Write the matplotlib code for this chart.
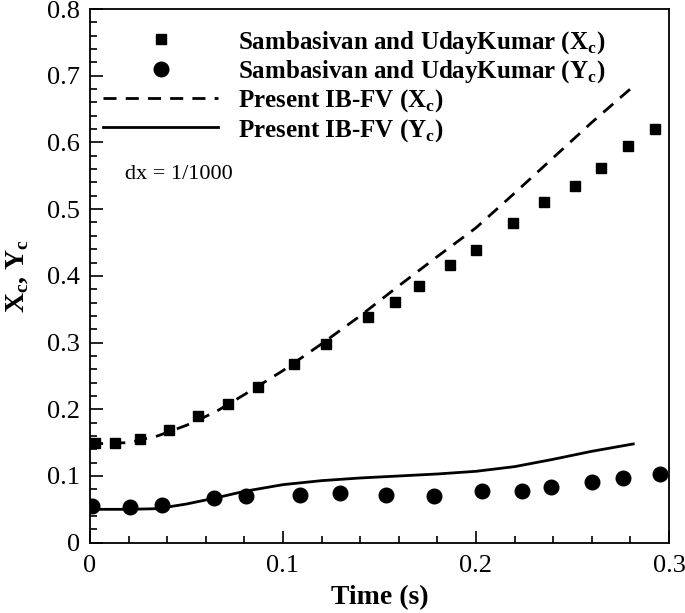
import numpy as np
import matplotlib.pyplot as plt
from matplotlib.ticker import MultipleLocator

plt.rcParams['font.family'] = ['Liberation Serif', 'DejaVu Serif']
plt.rcParams['mathtext.fontset'] = 'custom'
plt.rcParams['mathtext.rm'] = 'Liberation Serif'
plt.rcParams['mathtext.bf'] = 'Liberation Serif:bold'

# reference data (Sambasivan and UdayKumar)
ref_t_x = [0.0026, 0.013, 0.026, 0.041, 0.056, 0.0713, 0.0872, 0.1055, 0.1225, 0.1443,
           0.1578, 0.1704, 0.1865, 0.1998, 0.219, 0.2351, 0.2515, 0.2647, 0.2788, 0.293]
ref_xc = [0.149, 0.150, 0.155, 0.169, 0.190, 0.2075, 0.234, 0.2675, 0.298, 0.338,
          0.361, 0.385, 0.416, 0.439, 0.479, 0.511, 0.534, 0.561, 0.595, 0.620]

ref_t_y = [0.0012, 0.0208, 0.0372, 0.0645, 0.0808, 0.109, 0.1297, 0.1536, 0.1785,
           0.2032, 0.224, 0.2389, 0.26, 0.2764, 0.2953]
ref_yc = [0.0555, 0.054, 0.0565, 0.0665, 0.070, 0.0715, 0.075, 0.0715, 0.070,
          0.0775, 0.0775, 0.084, 0.0905, 0.0975, 0.1025]

# present IB-FV
t_ib = [0.0, 0.02, 0.035, 0.05, 0.065, 0.08, 0.1, 0.12, 0.14, 0.16, 0.18, 0.2,
        0.22, 0.24, 0.26, 0.2815]
xc_ib = [0.148, 0.150, 0.160, 0.176, 0.196, 0.222, 0.258, 0.298, 0.340, 0.385,
         0.429, 0.472, 0.524, 0.577, 0.630, 0.684]
yc_ib = [0.050, 0.050, 0.051, 0.058, 0.067, 0.077, 0.087, 0.093, 0.097, 0.100,
         0.103, 0.107, 0.114, 0.125, 0.137, 0.148]

fig = plt.figure(figsize=(6.85, 6.13), dpi=100)
ax = fig.add_axes([0.1314, 0.1147, 0.8452, 0.8706])

ax.plot(ref_t_x, ref_xc, 's', color='black', ms=7,
        label=r'Sambasivan and UdayKumar (X$_\mathbf{c}$)')
ax.plot(ref_t_y, ref_yc, 'o', color='black', ms=10.5,
        label=r'Sambasivan and UdayKumar (Y$_\mathbf{c}$)')
ax.plot(t_ib, xc_ib, color='black', lw=2.0, dashes=(4.7, 3.3),
        label=r'Present IB-FV (X$_\mathbf{c}$)')
ax.plot(t_ib, yc_ib, color='black', lw=2.0,
        label=r'Present IB-FV (Y$_\mathbf{c}$)')

ax.set_xlim(0, 0.3)
ax.set_ylim(0, 0.8)
ax.xaxis.set_major_locator(MultipleLocator(0.1))
ax.xaxis.set_minor_locator(MultipleLocator(0.02))
ax.yaxis.set_major_locator(MultipleLocator(0.1))
ax.yaxis.set_minor_locator(MultipleLocator(0.02))
fmt = plt.FuncFormatter(lambda v, p: '0' if abs(v) < 1e-9 else f'{v:g}')
ax.xaxis.set_major_formatter(fmt)
ax.yaxis.set_major_formatter(fmt)
ax.tick_params(which='both', direction='in', top=False, right=False, labelsize=19, width=1.2)
ax.tick_params(which='major', length=9)
ax.tick_params(which='minor', length=5)
ax.tick_params(axis='x', pad=9)
ax.tick_params(axis='y', pad=7)
for s in ax.spines.values():
    s.set_linewidth(1.3)

ax.set_xlabel('Time (s)', fontsize=20, fontweight='bold', labelpad=6)
ax.set_ylabel(r'X$_\mathbf{c}$, Y$_\mathbf{c}$', fontsize=20, fontweight='bold', labelpad=12)

ax.text(0.06, 0.69, 'dx = 1/1000', transform=ax.transAxes, fontsize=16, va='center')

leg = ax.legend(loc='upper left', bbox_to_anchor=(0.0225, 0.963), frameon=False,
                prop={'weight': 'bold', 'size': 18}, handlelength=4.6,
                handletextpad=0.8, labelspacing=0.1, borderaxespad=0.0, borderpad=0.0)

fig.savefig('out.png', dpi=100)
